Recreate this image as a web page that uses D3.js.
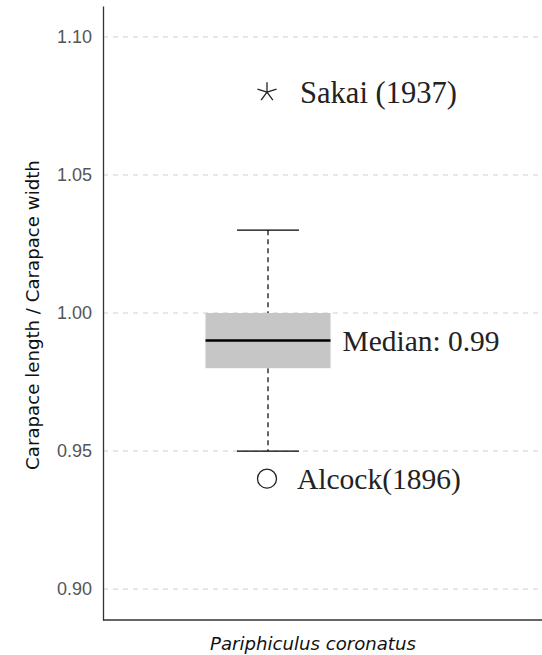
<!DOCTYPE html>
<html><head><meta charset="utf-8">
<script src="https://cdn.jsdelivr.net/npm/d3@7"></script>
<style>body{margin:0;background:#fff}</style>
</head><body>
<svg id="c" width="542" height="655"></svg>
<script>
const categories = ["Pariphiculus coronatus"];
const boxStats = [{q1: 0.98, median: 0.99, q3: 1.00, low: 0.95, high: 1.03}];
const yTicks = [0.90, 0.95, 1.00, 1.05, 1.10];
const refPoints = [
  {label: "Sakai (1937)", value: 1.08, shape: "asterisk"},
  {label: "Alcock(1896)", value: 0.94, shape: "circle"}
];
const medianLabel = "Median: 0.99";

(function () {
const svg = d3.select("#c");
const mLeft = 103, mRight = 542, mTop = 6, mBottom = 620;
const y = d3.scaleLinear().domain([0.8888, 1.1112]).range([mBottom, mTop]);
const x = d3.scaleBand().domain(categories).range([mLeft, 433]);
const serif = "'Liberation Serif', 'DejaVu Serif', serif";
const sans = "'DejaVu Sans', Verdana, sans-serif";

function fit(sel, target) {
  const fs = +sel.attr("font-size");
  const w = sel.node().getComputedTextLength();
  if (w > 0) sel.attr("font-size", fs * target / w);
}

// grid
svg.append("g").selectAll("line").data(yTicks).join("line")
  .attr("x1", mLeft).attr("x2", mRight)
  .attr("y1", d => y(d)).attr("y2", d => y(d))
  .attr("stroke", "#cfcfcf").attr("stroke-width", 1).attr("stroke-dasharray", "5,5");

// y axis
const ya = svg.append("g").attr("transform", `translate(${mLeft},0)`)
  .call(d3.axisLeft(y).tickValues(yTicks).tickFormat(d3.format(".2f")).tickSize(0).tickPadding(11));
ya.attr("font-size", 18).attr("font-family", "'Liberation Sans', Arial, sans-serif");
ya.select(".domain").attr("stroke", "#333").attr("stroke-width", 1.3);
ya.selectAll(".tick text").attr("fill", "#555").attr("font-size", 18)
  .attr("font-family", "'Liberation Sans', Arial, sans-serif");

// x axis line
svg.append("line").attr("x1", mLeft).attr("x2", mRight).attr("y1", mBottom).attr("y2", mBottom)
  .attr("stroke", "#333").attr("stroke-width", 1.3);

const bw = 125, capw = 62;
boxStats.forEach((s, i) => {
  const cx = x(categories[i]) + x.bandwidth() / 2;
  // whiskers
  svg.append("line").attr("x1", cx).attr("x2", cx).attr("y1", y(s.high)).attr("y2", y(s.q3))
    .attr("stroke", "#000").attr("stroke-width", 1.2).attr("stroke-dasharray", "5,4");
  svg.append("line").attr("x1", cx).attr("x2", cx).attr("y1", y(s.q1)).attr("y2", y(s.low))
    .attr("stroke", "#000").attr("stroke-width", 1.2).attr("stroke-dasharray", "5,4");
  [s.high, s.low].forEach(v => svg.append("line").attr("x1", cx - capw / 2).attr("x2", cx + capw / 2)
    .attr("y1", y(v)).attr("y2", y(v)).attr("stroke", "#000").attr("stroke-width", 1.2));
  svg.append("rect").attr("x", cx - bw / 2).attr("width", bw)
    .attr("y", y(s.q3)).attr("height", y(s.q1) - y(s.q3)).attr("fill", "#c6c6c6");
  svg.append("line").attr("x1", cx - bw / 2).attr("x2", cx + bw / 2)
    .attr("y1", y(s.median)).attr("y2", y(s.median)).attr("stroke", "#000").attr("stroke-width", 2.5);
  const mt = svg.append("text").attr("x", cx + bw / 2 + 12).attr("y", y(s.median)).attr("dy", "0.35em")
    .attr("font-family", serif).attr("font-size", 20).attr("fill", "#222")
    .text(medianLabel);
  fit(mt, 157);

  refPoints.forEach(p => {
    const py = y(p.value), px = cx - 1;
    if (p.shape === "asterisk") {
      const r = 10;
      let d = "";
      for (let k = 0; k < 5; k++) {
        const a = -Math.PI / 2 + k * 2 * Math.PI / 5;
        d += `M${px},${py}L${px + r * Math.cos(a)},${py + r * Math.sin(a)}`;
      }
      svg.append("path").attr("d", d).attr("stroke", "#222").attr("stroke-width", 1.3).attr("fill", "none");
    } else {
      svg.append("circle").attr("cx", px).attr("cy", py).attr("r", 9.5)
        .attr("fill", "none").attr("stroke", "#222").attr("stroke-width", 1.3);
    }
    const t = svg.append("text").attr("x", px + (p.shape === "asterisk" ? 33 : 30)).attr("y", py).attr("dy", "0.35em")
      .attr("font-family", serif).attr("font-size", 20).attr("fill", "#222")
      .text(p.label);
    fit(t, p.shape === "asterisk" ? 157 : 164);
  });
});

// axis labels
const xl = svg.append("text").attr("x", 313).attr("y", 650).attr("text-anchor", "middle")
  .attr("font-family", sans).attr("font-style", "italic").attr("font-size", 17)
  .attr("fill", "#111").text(categories[0]);
fit(xl, 206);
const yl = svg.append("text").attr("transform", `translate(39,315) rotate(-90)`).attr("text-anchor", "middle")
  .attr("font-family", sans).attr("font-size", 16)
  .attr("fill", "#111").text("Carapace length / Carapace width");
fit(yl, 310);
})();
</script>
</body></html>
